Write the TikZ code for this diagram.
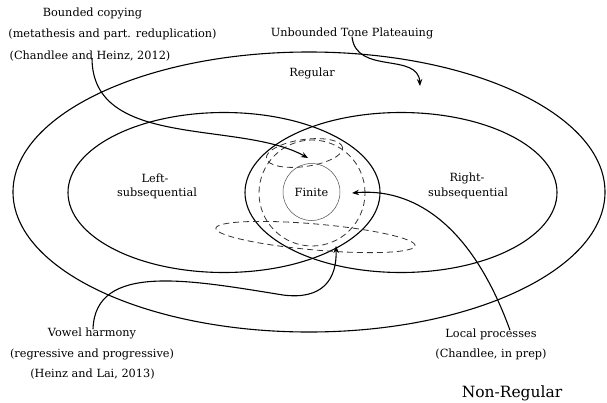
\documentclass[tikz,border=0pt]{standalone}
\usepackage{fontspec}
\setmainfont{DejaVu Serif}
\usetikzlibrary{arrows.meta}
\tikzset{
  lbl/.style={inner sep=0pt, anchor=base, font=\fontsize{11.3}{13}\selectfont},
  big/.style={inner sep=0pt, anchor=base, font=\fontsize{15.5}{18}\selectfont},
  region/.style={line width=1.1pt, black},
  dsh/.style={line width=0.8pt, black!80, dash pattern=on 6pt off 4pt},
  conn/.style={line width=1.1pt, black, -{Stealth[length=7pt,width=5.5pt]}},
}
\begin{document}
\begin{tikzpicture}[x=1pt,y=-1pt]
\useasboundingbox (0,0) rectangle (607,402);
% regions
\draw[region] (309,192) ellipse [x radius=296pt, y radius=140pt];
\draw[region] (224,192.5) ellipse [x radius=156pt, y radius=80pt];
\draw[region] (401,192.5) ellipse [x radius=156pt, y radius=80pt];
\draw[line width=0.5pt, black!70] (311.5,192) circle [radius=28.5pt];
\draw[dsh] (312,193) circle [radius=53pt];
\draw[dsh, rotate around={8:(304.5,153)}] (304.5,153) ellipse [x radius=38.5pt, y radius=13.5pt];
\draw[dsh, rotate around={-5:(315.5,237)}] (315.5,237) ellipse [x radius=100pt, y radius=13pt];
% labels
\node[lbl] (bc1) at (92.5,16) {Bounded copying};
\node[lbl] (bc2) at (112.5,37) {(metathesis and part. reduplication)};
\node[lbl] (bc3) at (90,59) {(Chandlee and Heinz, 2012)};
\node[lbl] (utp) at (352,36) {Unbounded Tone Plateauing};
\node[lbl] (reg) at (312,76) {Regular};
\node[lbl] (ls1) at (155,182) {Left-};
\node[lbl] (ls2) at (157,196) {subsequential};
\node[lbl] (rs1) at (467,181) {Right-};
\node[lbl] (rs2) at (468,196) {subsequential};
\node[lbl] (fin) at (311.5,196) {Finite};
\node[lbl] (vh1) at (92,336) {Vowel harmony};
\node[lbl] (vh2) at (92,357) {(regressive and progressive)};
\node[lbl] (vh3) at (92.5,377) {(Heinz and Lai, 2013)};
\node[lbl] (lp1) at (491,337) {Local processes};
\node[lbl] (lp2) at (491,357) {(Chandlee, in prep)};
\node[big] (nonreg) at (512,397) {Non-Regular};
% arrow targets
\coordinate (tbc) at (308,158);
\coordinate (tutp) at (420,86);
\coordinate (tlp) at (352,193);
\coordinate (tvh) at (336,246);
\coordinate (mvh) at (283,295);
% connectors
\draw[conn] ([xshift=2pt,yshift=3pt]bc3.south) .. controls (92,150) and (240,120) .. (tbc);
\draw[conn] ([yshift=2pt]utp.south) .. controls (356,75) and (418,52) .. (tutp);
\draw[conn] ([xshift=19pt,yshift=-2pt]lp1.north) .. controls (470,220) and (410,188) .. (tlp);
\draw[conn] ([xshift=1pt,yshift=-2pt]vh1.north) .. controls (95,262) and (190,280) .. (mvh) .. controls (322,300) and (337,280) .. (tvh);
\end{tikzpicture}
\end{document}
